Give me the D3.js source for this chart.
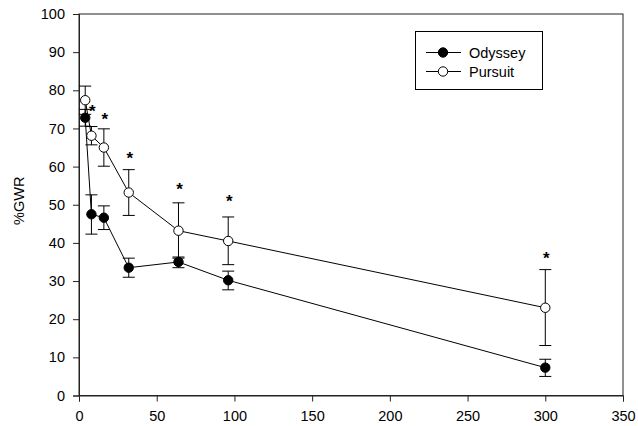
<!DOCTYPE html>
<html>
<head>
<meta charset="utf-8">
<script src="https://cdn.jsdelivr.net/npm/d3@7"></script>
<style>
  html, body { margin: 0; padding: 0; background: #fff; }
  svg { display: block; font-family: "Liberation Sans", Arial, sans-serif; }
</style>
</head>
<body>
<svg id="chart" width="638" height="426"></svg>
<script>
// Time points (x) shared by both series
const times = [4, 8, 16, 32, 64, 96, 300];

// Odyssey: mean, upper and lower error limits
const odysseyMean  = [72.8, 47.5, 46.6, 33.5, 35.0, 30.2, 7.3];
const odysseyUpper = [75.0, 52.6, 49.7, 36.0, 36.3, 32.6, 9.5];
const odysseyLower = [70.6, 42.3, 43.5, 31.0, 33.5, 27.7, 5.0];

// Pursuit: mean, upper and lower error limits
const pursuitMean  = [77.4, 68.1, 65.0, 53.2, 43.2, 40.5, 23.0];
const pursuitUpper = [81.1, 70.5, 69.9, 59.2, 50.5, 46.8, 33.0];
const pursuitLower = [73.7, 65.7, 60.1, 47.2, 36.0, 34.3, 13.1];

// Significance markers (x, height of the asterisk)
const starTimes  = [8, 16, 32, 64, 96, 300];
const starLevels = [75.3, 73.2, 63.0, 54.9, 51.8, 36.8];

const xTicks = [0, 50, 100, 150, 200, 250, 300, 350];
const yTicks = [0, 10, 20, 30, 40, 50, 60, 70, 80, 90, 100];

const seriesNames = ["Odyssey", "Pursuit"];
const seriesFill  = ["#000", "#fff"];

const svg = d3.select("#chart");
const plot = { left: 79, right: 623, top: 14, bottom: 395.5 };
const fontSize = 14.5;

const x = d3.scaleLinear().domain([0, 350]).range([plot.left, plot.right]);
const y = d3.scaleLinear().domain([0, 100]).range([plot.bottom, plot.top]);

// Frame
svg.append("rect")
  .attr("x", plot.left).attr("y", plot.top)
  .attr("width", plot.right - plot.left).attr("height", plot.bottom - plot.top)
  .attr("fill", "none").attr("stroke", "#222").attr("stroke-width", 1);

// Axes
const xAxis = svg.append("g")
  .attr("transform", `translate(0,${plot.bottom})`)
  .call(d3.axisBottom(x).tickValues(xTicks).tickSize(6).tickPadding(9).tickFormat(d3.format("d")));
const yAxis = svg.append("g")
  .attr("transform", `translate(${plot.left},0)`)
  .call(d3.axisLeft(y).tickValues(yTicks).tickSize(6).tickPadding(8).tickFormat(d3.format("d")));
[xAxis, yAxis].forEach(g => {
  g.select(".domain").attr("stroke", "#222");
  g.selectAll(".tick line").attr("stroke", "#222");
  g.selectAll(".tick text").attr("font-size", fontSize).attr("fill", "#000")
    .attr("font-family", "Liberation Sans, Arial, sans-serif");
});

// Axis title
svg.append("text")
  .attr("transform", `translate(24,${(plot.top + plot.bottom) / 2 - 4}) rotate(-90)`)
  .attr("text-anchor", "middle")
  .attr("font-size", fontSize)
  .text("%GWR");

const series = [
  { mean: odysseyMean, upper: odysseyUpper, lower: odysseyLower, fill: seriesFill[0] },
  { mean: pursuitMean, upper: pursuitUpper, lower: pursuitLower, fill: seriesFill[1] }
];

const line = d3.line().x(d => x(d.t)).y(d => y(d.v));
const capHalf = 6;

series.forEach(s => {
  const pts = times.map((t, i) => ({ t, v: s.mean[i], hi: s.upper[i], lo: s.lower[i] }));
  const g = svg.append("g");
  // error bars
  const eb = g.selectAll(".eb").data(pts).enter().append("g");
  eb.append("line")
    .attr("x1", d => x(d.t)).attr("x2", d => x(d.t))
    .attr("y1", d => y(d.hi)).attr("y2", d => y(d.lo))
    .attr("stroke", "#000");
  eb.append("line")
    .attr("x1", d => x(d.t) - capHalf).attr("x2", d => x(d.t) + capHalf)
    .attr("y1", d => y(d.hi)).attr("y2", d => y(d.hi))
    .attr("stroke", "#000");
  eb.append("line")
    .attr("x1", d => x(d.t) - capHalf).attr("x2", d => x(d.t) + capHalf)
    .attr("y1", d => y(d.lo)).attr("y2", d => y(d.lo))
    .attr("stroke", "#000");
  s.g = g; s.pts = pts;
});

series.forEach(s => {
  s.g.append("path").datum(s.pts)
    .attr("d", line).attr("fill", "none").attr("stroke", "#000").attr("stroke-width", 1);
});

series.forEach(s => {
  s.g.selectAll("circle").data(s.pts).enter().append("circle")
    .attr("cx", d => x(d.t)).attr("cy", d => y(d.v)).attr("r", 4.7)
    .attr("fill", s.fill).attr("stroke", "#000").attr("stroke-width", 1);
});

// Asterisks
svg.selectAll(".star").data(starTimes.map((t, i) => ({ t, v: starLevels[i] })))
  .enter().append("text")
  .attr("x", d => x(d.t) + 1).attr("y", d => y(d.v) + 9)
  .attr("text-anchor", "middle")
  .attr("font-size", 17)
  .attr("font-weight", "bold")
  .text("*");

// Legend
const lg = svg.append("g");
lg.append("rect").attr("x", 415.5).attr("y", 31.5).attr("width", 127).attr("height", 58)
  .attr("fill", "#fff").attr("stroke", "#000");
seriesNames.forEach((name, i) => {
  const ly = 52.5 + i * 19;
  lg.append("line").attr("x1", 426).attr("x2", 461).attr("y1", ly).attr("y2", ly).attr("stroke", "#000");
  lg.append("circle").attr("cx", 443).attr("cy", ly).attr("r", 4.7)
    .attr("fill", seriesFill[i]).attr("stroke", "#000");
  lg.append("text").attr("x", 469).attr("y", ly + 5).attr("font-size", fontSize).text(name);
});
</script>
</body>
</html>
